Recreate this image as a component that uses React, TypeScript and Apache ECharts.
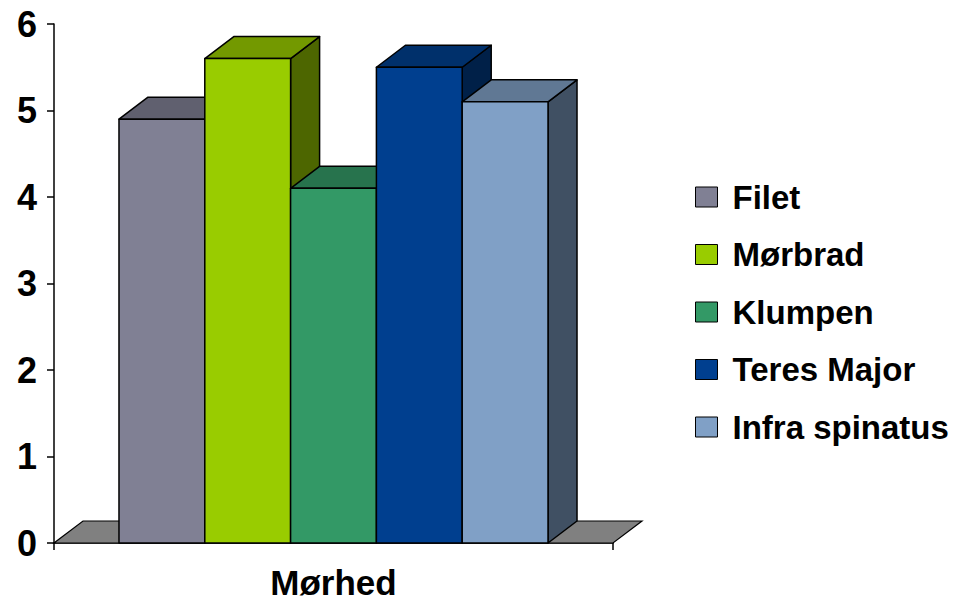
import React, { useEffect, useRef } from "react";
import * as echarts from "echarts";

// Chart data
const categories = ["Mørhed"];
const seriesNames = ["Filet", "Mørbrad", "Klumpen", "Teres Major", "Infra spinatus"];
const values = [4.9, 5.6, 4.1, 5.5, 5.1];
const yTicks = [0, 1, 2, 3, 4, 5, 6];

// Face colours of each column: front, top, side
const frontColors = ["#808094", "#99CC00", "#339966", "#003F8F", "#80A0C6"];
const topColors = ["#60606F", "#739900", "#27734D", "#00306B", "#607894"];
const sideColors = ["#40404A", "#4D6600", "#1A4D33", "#002048", "#405063"];

const FONT = "'Liberation Sans', Arial, sans-serif";
const DEPTH_X = 29;
const DEPTH_Y = -22;
const BAR_SHARE = 0.7675;

export default function App() {
  const ref = useRef<HTMLDivElement>(null);

  useEffect(() => {
    if (!ref.current) return;
    const chart = echarts.init(ref.current, undefined, { renderer: "svg" });

    const floorSeries = {
      type: "custom",
      name: "floor",
      z: 1,
      data: [[0, 0]],
      encode: { x: 0, y: 1 },
      renderItem: (_params: any, api: any) => {
        const base = api.coord([0, 0]);
        const catW = api.size([1, 0])[0];
        const l = base[0] - catW / 2;
        const r = base[0] + catW / 2;
        const y = base[1];
        return {
          type: "polygon",
          shape: {
            points: [
              [l, y],
              [r, y],
              [r + DEPTH_X, y + DEPTH_Y],
              [l + DEPTH_X, y + DEPTH_Y],
            ],
          },
          style: { fill: "#808080", stroke: "#000", lineWidth: 1.2 },
        };
      },
    };

    const barSeries = seriesNames.map((name, i) => ({
      type: "custom",
      name,
      z: 2 + i,
      itemStyle: { color: frontColors[i] },
      data: [[0, values[i]]],
      encode: { x: 0, y: 1 },
      renderItem: (_params: any, api: any) => {
        const v = api.value(1);
        const base = api.coord([0, 0]);
        const top = api.coord([0, v]);
        const catW = api.size([1, 0])[0];
        const bw = (catW * BAR_SHARE) / seriesNames.length;
        const x0 = base[0] - (seriesNames.length / 2) * bw + i * bw;
        const x1 = x0 + bw;
        const yt = top[1];
        const yb = base[1];
        const stroke = { stroke: "#000", lineWidth: 1.5, lineJoin: "round" };
        return {
          type: "group",
          children: [
            {
              type: "polygon",
              shape: {
                points: [
                  [x1, yt],
                  [x1 + DEPTH_X, yt + DEPTH_Y],
                  [x1 + DEPTH_X, yb + DEPTH_Y],
                  [x1, yb],
                ],
              },
              style: { fill: sideColors[i], ...stroke },
            },
            {
              type: "polygon",
              shape: {
                points: [
                  [x0, yt],
                  [x1, yt],
                  [x1 + DEPTH_X, yt + DEPTH_Y],
                  [x0 + DEPTH_X, yt + DEPTH_Y],
                ],
              },
              style: { fill: topColors[i], ...stroke },
            },
            {
              type: "rect",
              shape: { x: x0, y: yt, width: bw, height: yb - yt },
              style: { fill: frontColors[i], ...stroke },
            },
          ],
        };
      },
    }));

    chart.setOption({
      animation: false,
      backgroundColor: "#fff",
      textStyle: { fontFamily: FONT },
      grid: { left: 54, right: 356, top: 24, bottom: 58, containLabel: false },
      legend: {
        data: seriesNames,
        orient: "vertical",
        left: 695,
        top: 180.5,
        padding: 0,
        itemGap: 24.5,
        itemWidth: 22,
        itemHeight: 20,
        icon: "rect",
        itemStyle: { borderColor: "#000", borderWidth: 1 },
        textStyle: {
          fontFamily: FONT,
          fontSize: 33,
          fontWeight: "bold",
          color: "#000",
          lineHeight: 33,
          padding: [0, 0, 0, 10],
        },
      },
      xAxis: {
        type: "category",
        data: categories,
        boundaryGap: true,
        axisLine: { show: true, lineStyle: { color: "#000", width: 1.5 } },
        axisTick: { show: true, length: 7, alignWithLabel: false, lineStyle: { color: "#000", width: 1.5 } },
        axisLabel: {
          margin: 22,
          fontFamily: FONT,
          fontSize: 35,
          fontWeight: "bold",
          color: "#000",
        },
      },
      yAxis: {
        type: "value",
        min: yTicks[0],
        max: yTicks[yTicks.length - 1],
        interval: 1,
        splitLine: { show: false },
        axisLine: { show: true, lineStyle: { color: "#000", width: 1.5 } },
        axisTick: { show: true, length: 7, lineStyle: { color: "#000", width: 1.5 } },
        axisLabel: {
          margin: 17,
          fontFamily: FONT,
          fontSize: 36,
          fontWeight: "bold",
          color: "#000",
        },
      },
      series: [floorSeries, ...barSeries],
    });

    return () => chart.dispose();
  }, []);

  return (
    <div
      ref={ref}
      style={{ position: "fixed", left: 0, top: 0, width: 969, height: 601 }}
    />
  );
}
